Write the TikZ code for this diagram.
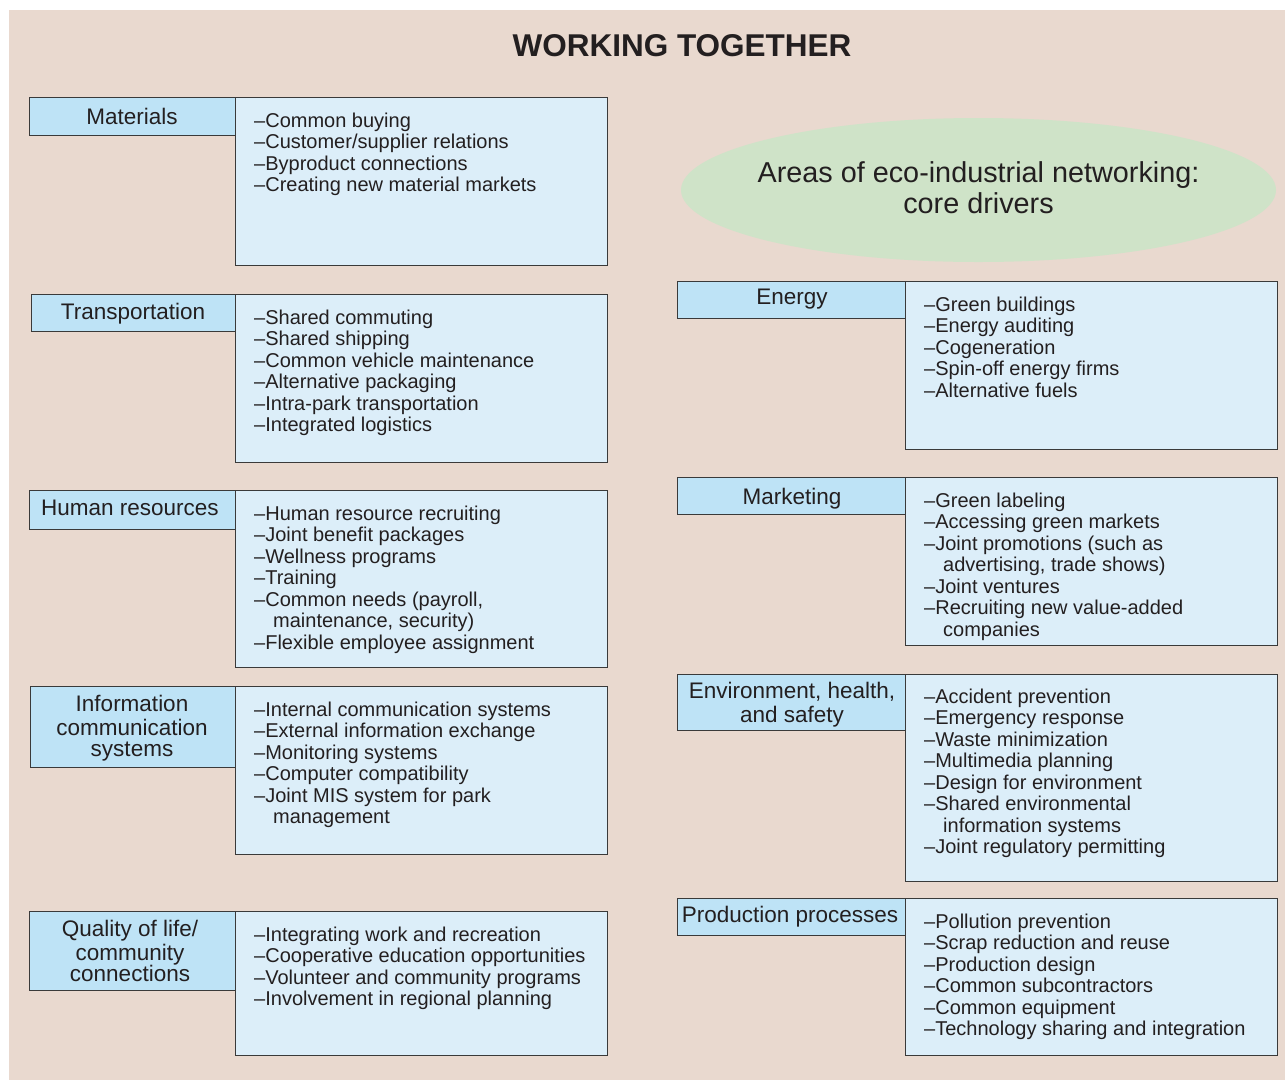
\documentclass[tikz,border=0pt]{standalone}
\usepackage{fontspec}
\setmainfont{Liberation Sans}
\usetikzlibrary{shapes.geometric}
\definecolor{bgc}{HTML}{E9D9CF}
\definecolor{labc}{HTML}{BEE3F6}
\definecolor{contc}{HTML}{DCEEF9}
\definecolor{ellc}{HTML}{CFE3C8}
\definecolor{edgec}{HTML}{3A3A3A}
\definecolor{txtc}{HTML}{231F20}
\newcommand{\contind}{\hspace*{19pt}}
\begin{document}
\begin{tikzpicture}[x=1pt,y=-1pt,
  contentbox/.style={draw=edgec, line width=1.2pt, fill=contc, anchor=north west, inner sep=0pt},
  labelbox/.style={draw=edgec, line width=1.2pt, fill=labc, anchor=north west, inner sep=0pt},
  itemtext/.style={anchor=north west, inner sep=0pt, align=left, text=txtc, font=\fontsize{20}{21.5}\selectfont},
  labeltext/.style={anchor=north, inner sep=0pt, align=center, text=txtc, font=\fontsize{22.5}{21.5}\selectfont}]
\useasboundingbox (0,0) rectangle (1285,1080);
\fill[bgc] (9,10) rectangle (1285,1080);

% title
\node[anchor=base, inner sep=0pt, text=txtc, font=\bfseries\fontsize{31.5}{36}\selectfont] (title) at (682,56) {WORKING TOGETHER};

% ellipse
\node[ellipse, fill=ellc, minimum width=595pt, minimum height=144pt, inner sep=0pt] (ell) at (978.5,190) {};
\node[anchor=north, inner sep=0pt, align=center, text=txtc, font=\fontsize{28.8}{31.5}\selectfont] (elltext) at (978.5,159.95) {\strut Areas of eco-industrial networking:\\core drivers};

% ---------- left column ----------
% Materials
\node[contentbox, minimum width=372pt, minimum height=168pt] (matC) at (235,97) {};
\node[labelbox, minimum width=206pt, minimum height=38pt] (matL) at (29,97) {};
\node[labeltext] (matT) at (132,107.95) {\strut Materials};
\node[itemtext] (matI) at (254,111.95) {\strut –Common buying\\–Customer/supplier relations\\–Byproduct connections\\–Creating new material markets};

% Transportation
\node[contentbox, minimum width=372pt, minimum height=168pt] (traC) at (235,294) {};
\node[labelbox, minimum width=204pt, minimum height=37pt] (traL) at (31,294) {};
\node[labeltext] (traT) at (133,302.95) {\strut Transportation};
\node[itemtext] (traI) at (254,308.95) {\strut –Shared commuting\\–Shared shipping\\–Common vehicle maintenance\\–Alternative packaging\\–Intra-park transportation\\–Integrated logistics};

% Human resources
\node[contentbox, minimum width=372pt, minimum height=177pt] (humC) at (235,490) {};
\node[labelbox, minimum width=206pt, minimum height=39pt] (humL) at (29,490) {};
\node[labeltext] (humT) at (130,499.95) {\strut Human resources};
\node[itemtext] (humI) at (254,504.95) {\strut –Human resource recruiting\\–Joint benefit packages\\–Wellness programs\\–Training\\–Common needs (payroll,\\\contind maintenance, security)\\–Flexible employee assignment};

% Information communication systems
\node[contentbox, minimum width=372pt, minimum height=168pt] (infC) at (235,686) {};
\node[labelbox, minimum width=205pt, minimum height=81pt] (infL) at (30,686) {};
\node[labeltext] (infT) at (132,694.95) {\strut Information\\communication\\systems};
\node[itemtext] (infI) at (254,700.95) {\strut –Internal communication systems\\–External information exchange\\–Monitoring systems\\–Computer compatibility\\–Joint MIS system for park\\\contind management};

% Quality of life
\node[contentbox, minimum width=372pt, minimum height=144pt] (quaC) at (235,911) {};
\node[labelbox, minimum width=206pt, minimum height=79pt] (quaL) at (29,911) {};
\node[labeltext] (quaT) at (130,919.95) {\strut Quality of life/\\community\\connections};
\node[itemtext] (quaI) at (254,925.95) {\strut –Integrating work and recreation\\–Cooperative education opportunities\\–Volunteer and community programs\\–Involvement in regional planning};

% ---------- right column ----------
% Energy
\node[contentbox, minimum width=372pt, minimum height=168pt] (eneC) at (905,281) {};
\node[labelbox, minimum width=228pt, minimum height=37pt] (eneL) at (677,281) {};
\node[labeltext] (eneT) at (792,288.95) {\strut Energy};
\node[itemtext] (eneI) at (924,295.95) {\strut –Green buildings\\–Energy auditing\\–Cogeneration\\–Spin-off energy firms\\–Alternative fuels};

% Marketing
\node[contentbox, minimum width=372pt, minimum height=168pt] (marC) at (905,477) {};
\node[labelbox, minimum width=228pt, minimum height=37pt] (marL) at (677,477) {};
\node[labeltext] (marT) at (792,487.95) {\strut Marketing};
\node[itemtext] (marI) at (924,491.95) {\strut –Green labeling\\–Accessing green markets\\–Joint promotions (such as\\\contind advertising, trade shows)\\–Joint ventures\\–Recruiting new value-added\\\contind companies};

% Environment, health, and safety
\node[contentbox, minimum width=372pt, minimum height=207pt] (envC) at (905,674) {};
\node[labelbox, minimum width=228pt, minimum height=56pt] (envL) at (677,674) {};
\node[labeltext] (envT) at (792,681.95) {\strut Environment, health,\\and safety};
\node[itemtext] (envI) at (924,687.95) {\strut –Accident prevention\\–Emergency response\\–Waste minimization\\–Multimedia planning\\–Design for environment\\–Shared environmental\\\contind information systems\\–Joint regulatory permitting};

% Production processes
\node[contentbox, minimum width=372pt, minimum height=157pt] (proC) at (905,898) {};
\node[labelbox, minimum width=228pt, minimum height=37pt] (proL) at (677,898) {};
\node[labeltext] (proT) at (790,905.95) {\strut Production processes};
\node[itemtext] (proI) at (924,912.95) {\strut –Pollution prevention\\–Scrap reduction and reuse\\–Production design\\–Common subcontractors\\–Common equipment\\–Technology sharing and integration};
\end{tikzpicture}
\end{document}
